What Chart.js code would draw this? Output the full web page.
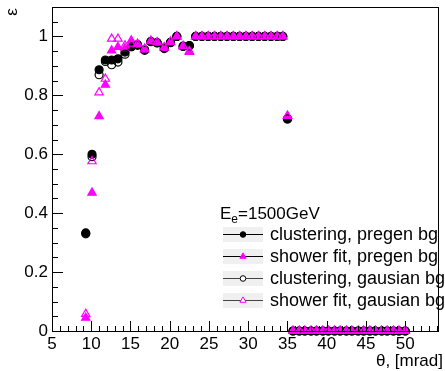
<!DOCTYPE html>
<html>
<head>
<meta charset="utf-8">
<script src="https://cdn.jsdelivr.net/npm/chart.js@4"></script>
<style>
  html, body { margin: 0; padding: 0; background: #ffffff; }
  #wrap { width: 445px; height: 371px; }
</style>
</head>
<body>
<div id="wrap"><canvas id="chart" width="445" height="371"></canvas></div>
<script>
// theta bin positions [mrad]
const theta = [
  9.3, 10.1, 11.0, 11.8, 12.6, 13.4, 14.3, 15.1, 15.9, 16.8, 17.6, 18.4, 19.3, 20.1, 20.9, 21.7, 22.5,
  23.3, 24.1, 24.9, 25.7, 26.5, 27.3, 28.1, 28.9, 29.7, 30.5, 31.3, 32.1, 32.9, 33.7, 34.4,
  35.0,
  35.7, 36.5, 37.2, 38.0, 38.7, 39.5, 40.2, 41.0, 41.7, 42.5, 43.2, 44.0, 44.7, 45.5, 46.2, 47.0, 47.7, 48.5, 49.2, 50.0
];

// efficiencies
const clusPregen = [
  0.333, 0.600, 0.887, 0.920, 0.920, 0.924, 0.947, 0.965, 0.972, 0.955, 0.983, 0.979, 0.961, 0.980, 1.000, 0.967, 0.969,
  1, 1, 1, 1, 1, 1, 1, 1, 1, 1, 1, 1, 1, 1, 1,
  0.720,
  0, 0, 0, 0, 0, 0, 0, 0, 0, 0, 0, 0, 0, 0, 0, 0, 0, 0, 0, 0
];
const showerPregen = [
  0.045, 0.469, 0.729, 0.836, 0.952, 0.964, 0.960, 0.986, 0.972, 0.955, 0.983, 0.979, 0.961, 0.980, 1.000, 0.967, 0.947,
  1, 1, 1, 1, 1, 1, 1, 1, 1, 1, 1, 1, 1, 1, 1,
  0.730,
  0, 0, 0, 0, 0, 0, 0, 0, 0, 0, 0, 0, 0, 0, 0, 0, 0, 0, 0, 0
];
const clusGaus = [
  0.330, 0.592, 0.870, 0.915, 0.904, 0.913, 0.940, 0.965, 0.970, 0.953, 0.982, 0.978, 0.959, 0.979, 1.000, 0.966, 0.968,
  1, 1, 1, 1, 1, 1, 1, 1, 1, 1, 1, 1, 1, 1, 1,
  0.720,
  0, 0, 0, 0, 0, 0, 0, 0, 0, 0, 0, 0, 0, 0, 0, 0, 0, 0, 0, 0
];
const showerGaus = [
  0.058, 0.576, 0.810, 0.856, 0.992, 0.992, 0.969, 0.975, 0.975, 0.958, 0.985, 0.980, 0.963, 0.982, 1.000, 0.967, 0.950,
  1, 1, 1, 1, 1, 1, 1, 1, 1, 1, 1, 1, 1, 1, 1,
  0.730,
  0, 0, 0, 0, 0, 0, 0, 0, 0, 0, 0, 0, 0, 0, 0, 0, 0, 0, 0, 0
];

const legendTitle = ['E', 'e', '=1500GeV'];
const legendLabels = ['clustering, pregen bg', 'shower fit, pregen bg', 'clustering, gausian bg', 'shower fit, gausian bg'];

const xMin = 5, xMax = 54.3, yMin = 0, yMax = 1.1;
const MAGENTA = '#ff00ff';
const FONT = '"Liberation Sans", Arial, Helvetica, sans-serif';

const toPoints = ys => ys.map((y, i) => ({ x: theta[i], y: y }));

const series = [
  { label: legendLabels[0], data: clusPregen, style: 'circle', fill: '#000000', stroke: '#000000', radius: 4, order: 4 },
  { label: legendLabels[1], data: showerPregen, style: 'triangle', fill: MAGENTA, stroke: MAGENTA, radius: 4.8, order: 3 },
  { label: legendLabels[2], data: clusGaus, style: 'circle', fill: 'rgba(0,0,0,0)', stroke: '#000000', radius: 4, order: 2 },
  { label: legendLabels[3], data: showerGaus, style: 'triangle', fill: 'rgba(0,0,0,0)', stroke: MAGENTA, radius: 4.8, order: 1 }
];

// frame, inward ticks, axis titles and legend (ROOT look)
const rootFrame = {
  id: 'rootFrame',
  afterDraw(chart) {
    const ctx = chart.ctx;
    const a = chart.chartArea;
    const xs = chart.scales.x, ys = chart.scales.y;
    ctx.save();
    ctx.strokeStyle = '#000000';
    ctx.lineWidth = 1;
    ctx.strokeRect(Math.round(a.left) + 0.5, Math.round(a.top) + 0.5, Math.round(a.right - a.left) - 1, Math.round(a.bottom - a.top));

    ctx.beginPath();
    // x ticks
    for (let v = xMin; v <= xMax + 1e-6; v += 1) {
      const px = Math.round(xs.getPixelForValue(v)) + 0.5;
      const len = Math.abs(v % 5) < 1e-6 ? 10 : 5;
      ctx.moveTo(px, a.bottom);
      ctx.lineTo(px, a.bottom - len);
    }
    // y ticks
    for (let k = 0; k <= 22; k++) {
      const v = k * 0.05;
      if (v > yMax + 1e-6) break;
      const py = Math.round(ys.getPixelForValue(v)) + 0.5;
      const len = k % 4 === 0 ? 11 : 6;
      ctx.moveTo(a.left, py);
      ctx.lineTo(a.left + len, py);
    }
    ctx.stroke();

    // axis titles
    ctx.fillStyle = '#000000';
    ctx.font = '17px ' + FONT;
    ctx.textAlign = 'right';
    ctx.textBaseline = 'alphabetic';
    ctx.fillText('θ, [mrad]', 443, 366);
    ctx.save();
    ctx.translate(17, 12);
    ctx.rotate(-Math.PI / 2);
    ctx.textAlign = 'center';
    ctx.fillText('ε', 0, 0);
    ctx.restore();

    // legend
    ctx.textAlign = 'left';
    ctx.font = '17px ' + FONT;
    let tx = 220;
    ctx.fillText(legendTitle[0], tx, 219);
    tx += ctx.measureText(legendTitle[0]).width;
    ctx.font = '12px ' + FONT;
    ctx.fillText(legendTitle[1], tx, 223);
    tx += ctx.measureText(legendTitle[1]).width;
    ctx.font = '17px ' + FONT;
    ctx.fillText(legendTitle[2], tx, 219);

    const rowY = [234, 256, 278, 300];
    series.forEach((s, i) => {
      const cy = rowY[i];
      ctx.fillStyle = '#f0f0f0';
      ctx.fillRect(223, cy - 7, 40, 15);
      ctx.strokeStyle = i < 2 ? '#000000' : '#444444';
      ctx.beginPath();
      ctx.moveTo(223, cy + 0.5);
      ctx.lineTo(263, cy + 0.5);
      ctx.stroke();
      ctx.fillStyle = s.fill === 'rgba(0,0,0,0)' ? '#ffffff' : s.fill;
      ctx.strokeStyle = s.stroke;
      Chart.helpers.drawPoint(ctx, {
        pointStyle: s.style, radius: s.style === 'circle' ? 2.8 : 3.6, rotation: 0, borderWidth: 1
      }, 243, cy + 0.5);
      ctx.fillStyle = '#000000';
      ctx.font = '18px ' + FONT;
      ctx.textBaseline = 'middle';
      ctx.fillText(s.label, 270, cy + 1);
      ctx.textBaseline = 'alphabetic';
    });
    ctx.restore();
  }
};

new Chart(document.getElementById('chart'), {
  type: 'scatter',
  data: {
    datasets: series.map(s => ({
      label: s.label,
      data: toPoints(s.data),
      pointStyle: s.style,
      pointRadius: s.radius,
      pointHoverRadius: s.radius,
      pointBackgroundColor: s.fill,
      pointBorderColor: s.stroke,
      pointBorderWidth: 1.2,
      showLine: false,
      clip: false,
      order: s.order
    }))
  },
  options: {
    responsive: false,
    animation: false,
    events: [],
    layout: { padding: { top: 7, right: 2, left: 0, bottom: 0 } },
    plugins: { legend: { display: false }, tooltip: { enabled: false } },
    scales: {
      x: {
        type: 'linear',
        min: xMin,
        max: xMax,
        grid: { display: false, drawTicks: false },
        border: { display: false },
        afterFit: scale => {
          scale.height = 40;
          scale.paddingLeft = 0;
          scale.paddingRight = 0;
        },
        ticks: {
          stepSize: 5,
          includeBounds: false,
          maxRotation: 0,
          autoSkip: false,
          padding: 3,
          color: '#000000',
          font: { family: FONT, size: 17 }
        }
      },
      y: {
        type: 'linear',
        min: yMin,
        max: yMax,
        grid: { display: false, drawTicks: false },
        border: { display: false },
        afterFit: scale => {
          scale.width = 52;
          scale.paddingTop = 0;
          scale.paddingBottom = 0;
        },
        ticks: {
          stepSize: 0.2,
          includeBounds: false,
          padding: 4,
          color: '#000000',
          font: { family: FONT, size: 17 },
          callback: v => String(Math.round(v * 10) / 10)
        }
      }
    }
  },
  plugins: [rootFrame]
});
</script>
</body>
</html>
